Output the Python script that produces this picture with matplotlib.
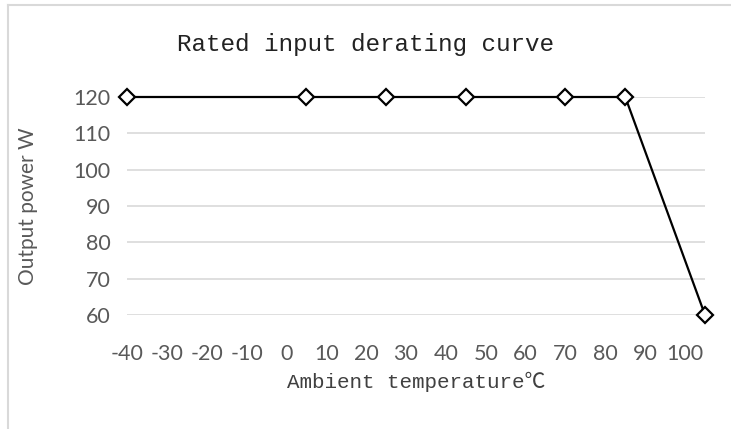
import matplotlib.pyplot as plt
from matplotlib.lines import Line2D

plt.rcParams['axes.unicode_minus'] = False

# data
temps = [-40, 5, 25, 45, 70, 85, 105]
power = [120, 120, 120, 120, 120, 120, 60]
x_ticks = list(range(-40, 101, 10))
y_ticks = list(range(60, 121, 10))

fig = plt.figure(figsize=(7.31, 4.29), dpi=100)
ax = fig.add_axes([127 / 731, 1 - 315 / 429, (705 - 127) / 731, (315 - 97) / 429])

ax.plot(temps, power, color='black', lw=1.6, marker='D', markersize=8.5,
        markerfacecolor='white', markeredgecolor='black', markeredgewidth=1.6,
        clip_on=False, zorder=3)

ax.set_xlim(-40, 105)
ax.set_ylim(60, 120)
ax.set_xticks(x_ticks)
ax.set_yticks(y_ticks)
ax.grid(axis='y', color='#d9d9d9', lw=1.2)
ax.set_axisbelow(True)
for s in ax.spines.values():
    s.set_visible(False)
ax.tick_params(length=0, labelsize=15.5, labelcolor='#595959')
ax.tick_params(axis='x', pad=21)
ax.tick_params(axis='y', pad=12)
for lab in ax.get_xticklabels() + ax.get_yticklabels():
    lab.set_family('Lato')

ax.set_ylabel('Output power W', family='Lato', fontsize=15, color='#595959')
ax.yaxis.set_label_coords(-0.171, 0.5)
ax.set_xlabel('Ambient temperature℃', family=['Liberation Mono', 'Noto Sans CJK SC'],
              fontsize=15, color='#404040')
ax.xaxis.set_label_coords(0.5, -(382 - 315) / 218)
ax.xaxis.label.set_va('center')
ax.yaxis.label.set_va('center')
fig.text(0.5, 1 - 44 / 429, 'Rated input derating curve', family='Liberation Mono',
         fontsize=17.5, color='#222222', ha='center', va='center')

# light chart-area border (top and left visible)
fig.add_artist(Line2D([8 / 731, 8 / 731], [0, 1 - 5 / 429], color='#d9d9d9', lw=1.5))
fig.add_artist(Line2D([8 / 731, 1], [1 - 5 / 429, 1 - 5 / 429], color='#d9d9d9', lw=1.5))

fig.savefig('out.png', dpi=100)
